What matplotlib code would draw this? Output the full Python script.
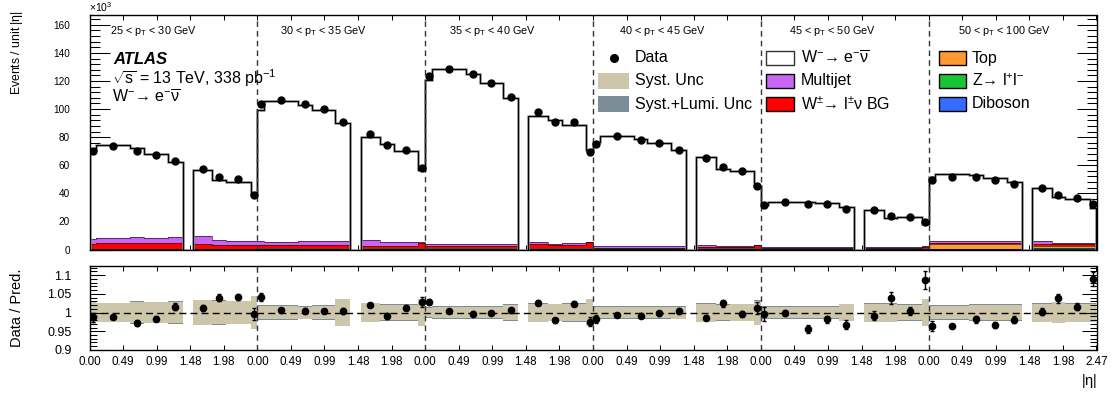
import numpy as np
import matplotlib
matplotlib.use("Agg")
import matplotlib.pyplot as plt
from matplotlib.patches import Rectangle
from matplotlib.lines import Line2D
from matplotlib.ticker import MultipleLocator, FixedLocator

plt.rcParams['font.family'] = ['Liberation Sans', 'DejaVu Sans']
plt.rcParams['mathtext.fontset'] = 'custom'
plt.rcParams['mathtext.rm'] = 'Liberation Sans'
plt.rcParams['mathtext.it'] = 'Liberation Sans:italic'
plt.rcParams['mathtext.bf'] = 'Liberation Sans:bold'

# |eta| binning used in every pT slice (1.37-1.52 crack is empty)
eta_edges = [0.0, 0.1, 0.6, 0.8, 1.15, 1.37, 1.52, 1.81, 2.01, 2.37, 2.47]
pt_labels = [r"25 < p$_{\mathrm{T}}$ < 30 GeV", r"30 < p$_{\mathrm{T}}$ < 35 GeV",
             r"35 < p$_{\mathrm{T}}$ < 40 GeV", r"40 < p$_{\mathrm{T}}$ < 45 GeV",
             r"45 < p$_{\mathrm{T}}$ < 50 GeV", r"50 < p$_{\mathrm{T}}$ < 100 GeV"]

# events / unit |eta| in units of 10^3, one row per pT slice (crack bin omitted)
data = [
    [70.2, 73.8, 70.5, 67.1, 63.3, 57.4, 51.4, 50.2, 39.0],
    [103.6, 106.4, 103.6, 99.8, 90.7, 81.9, 74.3, 71.0, 57.9],
    [123.8, 128.8, 124.8, 118.6, 108.3, 97.9, 90.5, 90.5, 69.3],
    [75.0, 80.5, 78.3, 75.7, 71.0, 65.0, 58.8, 56.0, 45.5],
    [31.9, 33.8, 32.1, 32.4, 29.0, 28.1, 23.6, 23.1, 19.8],
    [49.5, 51.9, 51.9, 49.3, 46.9, 44.0, 38.6, 36.4, 32.4],
]
ratio = [
    [0.987, 0.988, 0.972, 0.984, 1.016, 1.011, 1.040, 1.042, 0.996],
    [1.042, 1.008, 1.004, 1.004, 1.004, 1.020, 0.990, 1.013, 1.028],
    [1.028, 1.004, 0.997, 0.999, 1.006, 1.026, 0.979, 1.024, 0.975],
    [0.983, 0.994, 0.992, 0.998, 1.004, 0.986, 1.025, 0.996, 1.012],
    [0.996, 0.998, 0.956, 0.982, 0.967, 0.992, 1.039, 1.003, 1.087],
    [0.964, 0.964, 0.982, 0.967, 0.981, 1.002, 1.038, 1.016, 1.089],
]
syst = [
    [0.030, 0.025, 0.029, 0.027, 0.029, 0.033, 0.031, 0.030, 0.044],
    [0.017, 0.017, 0.016, 0.017, 0.035, 0.025, 0.021, 0.021, 0.036],
    [0.013, 0.015, 0.015, 0.014, 0.021, 0.024, 0.022, 0.023, 0.035],
    [0.014, 0.014, 0.014, 0.014, 0.016, 0.024, 0.020, 0.022, 0.032],
    [0.015, 0.015, 0.015, 0.015, 0.022, 0.024, 0.024, 0.020, 0.036],
    [0.017, 0.017, 0.020, 0.020, 0.020, 0.024, 0.028, 0.024, 0.024],
]
lumi = 0.008

multijet = [
    [3.6, 3.8, 4.5, 4.0, 4.5, 5.9, 3.4, 2.9, 2.4],
    [3.1, 2.6, 2.8, 2.8, 3.1, 4.5, 2.9, 2.6, 1.2],
    [1.4, 1.4, 1.4, 1.4, 1.4, 1.4, 0.7, 1.6, 0.3],
    [1.2, 1.2, 1.2, 1.2, 1.2, 1.2, 0.7, 0.5, 0.2],
    [0.7, 0.7, 0.7, 0.7, 0.7, 0.7, 0.7, 0.7, 0.7],
    [1.3, 1.3, 1.3, 1.3, 1.3, 2.1, 0.7, 0.7, 0.7],
]
w_bg = [
    [3.35, 3.65, 3.65, 3.65, 3.65, 2.95, 2.65, 2.65, 2.65],
    [2.15, 2.15, 2.15, 2.15, 2.15, 1.85, 1.85, 1.85, 3.55],
    [1.55, 1.55, 1.55, 1.55, 1.55, 2.95, 2.45, 2.05, 4.35],
    [0.45, 0.45, 0.45, 0.45, 0.45, 1.15, 1.15, 1.15, 2.55],
    [0.35, 0.35, 0.35, 0.35, 0.35, 0.35, 0.35, 0.35, 1.1],
    [0.4, 0.4, 0.4, 0.4, 0.4, 0.8, 0.8, 0.8, 0.8],
]
top = [
    [0.1] * 9,
    [0.15] * 9,
    [0.2] * 9,
    [0.3] * 9,
    [0.5] * 9,
    [3.3, 3.3, 3.3, 3.3, 3.3, 1.5, 1.5, 1.5, 1.5],
]
z_ll = [
    [0.5] * 9,
    [0.5] * 9,
    [0.5] * 9,
    [0.3] * 9,
    [0.2] * 9,
    [0.3, 0.3, 0.3, 0.3, 0.3, 0.8, 0.8, 0.8, 0.8],
]
diboson = [
    [0.05] * 9,
    [0.1] * 9,
    [0.15] * 9,
    [0.15] * 9,
    [0.15] * 9,
    [0.4, 0.4, 0.4, 0.4, 0.4, 0.5, 0.5, 0.5, 0.5],
]

c_multijet = '#c966f5'
c_wbg = '#ff0000'
c_top = '#ff9933'
c_zll = '#19c437'
c_dib = '#336cff'
c_syst = '#cdc6aa'
c_lumi = '#7b8d97'

n_blk = len(data)
blk_w = eta_edges[-1]


def with_crack(rows, fill=0.0):
    out = []
    for r in rows:
        out += list(r[:5]) + [fill] + list(r[5:])
    return np.array(out, dtype=float)


edges = np.concatenate([b * blk_w + np.array(eta_edges[:-1]) for b in range(n_blk)] + [[n_blk * blk_w]])
widths = np.diff(edges)
centres = edges[:-1] + widths / 2
mask = np.ones(len(widths), bool)
mask[5::10] = False

d = with_crack(data)
r = with_crack(ratio, 1.0)
s = with_crack(syst)
sl = np.where(mask, np.sqrt(s ** 2 + lumi ** 2), 0)
pred = np.where(mask, d / r, 0)
layers = [(with_crack(diboson), c_dib), (with_crack(z_ll), c_zll), (with_crack(top), c_top),
          (with_crack(w_bg), c_wbg), (with_crack(multijet), c_multijet)]
bkg = sum(l for l, _ in layers)
stat = np.where(mask, np.sqrt(d * 1000 * widths) / widths / 1000, 0)

fig = plt.figure(figsize=(11.15, 3.94), dpi=100)
W, H = 1115, 394
ax1 = fig.add_axes([89.5 / W, 1 - 249.5 / H, 1007 / W, 234.5 / H])
ax2 = fig.add_axes([89.5 / W, 1 - 350 / H, 1007 / W, 84 / H])

# stacked prediction
cum = np.zeros_like(pred)
for vals, col in layers:
    ax1.stairs(cum + vals, edges, baseline=cum, fill=True, color=col, lw=0, zorder=2)
    cum = cum + vals
    ax1.stairs(cum, edges, baseline=None, color='k', lw=0.4, zorder=2.5)
ax1.stairs(pred, edges, baseline=cum, fill=True, color='white', lw=0, zorder=2)
ax1.stairs(pred, edges, baseline=0, color='#9c9c9c', lw=1.8, zorder=3)
ax1.stairs(pred, edges, baseline=0, color='k', lw=0.9, zorder=3.1)

ax1.errorbar(centres[mask], d[mask], yerr=stat[mask], fmt='o', ms=5, color='k',
             elinewidth=1, capsize=0, zorder=5)

# ratio panel
ax2.stairs(1 + sl, edges, baseline=1 - sl, fill=True, color=c_lumi, lw=0, zorder=1)
ax2.stairs(1 + s, edges, baseline=1 - s, fill=True, color=c_syst, lw=0, zorder=1.5)
ax2.axhline(1, color='k', lw=1, ls=(0, (5, 3)), zorder=2)
ax2.errorbar(centres[mask], r[mask], yerr=(stat / np.where(mask, d, 1) * r)[mask], fmt='o',
             ms=4.5, color='k', elinewidth=1, capsize=1.5, capthick=1, zorder=5)

for b in range(1, n_blk):
    ax1.axvline(b * blk_w, color='#333333', lw=1, ls=(0, (4, 3)), zorder=4)
    ax2.axvline(b * blk_w, color='#333333', lw=1, ls=(0, (4, 3)), zorder=4)

for b, lab in enumerate(pt_labels):
    ax1.text(b * blk_w + 0.30 + 0.027 * b, 0.918, lab, transform=ax1.get_xaxis_transform(),
             ha='left', va='baseline', fontsize=7.8)

# axes styling
xt = np.arange(5 * n_blk + 1) * blk_w / 5
xl = ["%.2f" % ((k % 5) * blk_w / 5) for k in range(5 * n_blk)] + ["%.2f" % blk_w]
for ax in (ax1, ax2):
    ax.set_xlim(0, n_blk * blk_w)
    ax.set_xticks(xt)
    for sp in ax.spines.values():
        sp.set_linewidth(1.0)
    ax.tick_params(axis='x', which='major', direction='in', length=3.6, width=0.75, top=True)

ax1.set_xticklabels([])
ax1.set_ylim(0, 167)
ax1.yaxis.set_major_locator(MultipleLocator(20))
ax1.yaxis.set_minor_locator(MultipleLocator(4))
ax1.tick_params(axis='y', which='major', direction='in', length=14.4, width=0.75, right=True,
                pad=14, labelsize=7.2)
ax1.tick_params(axis='y', which='minor', direction='in', length=7.2, width=0.75, right=True)

ax2.set_xticklabels(xl, fontsize=8.4)
ax2.tick_params(axis='x', which='major', pad=4.3)
ax2.set_ylim(0.9, 1.124)
ax2.yaxis.set_major_locator(FixedLocator([0.9, 0.95, 1.0, 1.05, 1.1]))
ax2.set_yticklabels(['0.9', '0.95', '1', '1.05', '1.1'])
ax2.yaxis.set_minor_locator(MultipleLocator(0.01))
ax2.tick_params(axis='y', which='major', direction='in', length=10.8, width=0.75, right=True,
                pad=13, labelsize=9)
ax2.tick_params(axis='y', which='minor', direction='in', length=5, width=0.75, right=True)


def fx(px):
    return px / W


def fy(py):
    return 1 - py / H


fig.text(fx(89), fy(14), r"$\times$10$^{3}$", fontsize=7.5, ha='left', va='bottom')
fig.text(fx(17), fy(10), r"Events / unit |$\mathrm{\eta}$|", rotation=90, ha='center', va='top',
         fontsize=8.8)
fig.text(fx(17.5), fy(308), "Data / Pred.", rotation=90, ha='center', va='center', fontsize=10.5)
fig.text(fx(1089), fy(381), r"|$\mathrm{\eta}$|", ha='center', va='center', fontsize=10.5)

fig.text(fx(113), fy(59), "ATLAS", fontsize=12, fontweight='bold', fontstyle='italic',
         ha='left', va='center')
fig.text(fx(112), fy(78), r"$\sqrt{\mathrm{s}}$ = 13 TeV, 338 pb$^{-1}$", fontsize=11.5,
         ha='left', va='center')
sig_label = r"W$^{-}$→ e$^{-}\overline{\mathrm{\nu}}$"
fig.text(fx(112), fy(97), sig_label, fontsize=11.5, ha='left', va='center')

# legend, three columns
rows = [58, 81, 104]
legend_cols = [
    (598, 629, 635, [("Data", None, None), ("Syst. Unc", c_syst, 'none'),
                     ("Syst.+Lumi. Unc", c_lumi, 'none')]),
    (766, 794, 801, [(sig_label, 'white', '#333333'), ("Multijet", c_multijet, 'k'),
                     (r"W$^{\pm}$→ l$^{\pm}$ν BG", c_wbg, 'k')]),
    (939.5, 966.5, 972, [("Top", c_top, 'k'), (r"Z→ l$^{+}$l$^{-}$", c_zll, 'k'),
                         ("Diboson", c_dib, 'k')]),
]
for x0, x1, xt_, entries in legend_cols:
    for yrow, (lab, fc, ec) in zip(rows, entries):
        if fc is None:
            fig.add_artist(Line2D([fx((x0 + x1) / 2)], [fy(yrow)], marker='o', ms=5.5, color='k',
                                  transform=fig.transFigure))
        else:
            hh = 15 if ec == 'none' else 14
            fig.add_artist(Rectangle((fx(x0), fy(yrow + hh / 2)), (x1 - x0) / W, hh / H,
                                     facecolor=fc, edgecolor=ec, lw=1.0,
                                     transform=fig.transFigure))
        fig.text(fx(xt_), fy(yrow), lab, fontsize=11.5, ha='left', va='center')

fig.savefig("out.png", dpi=100)
